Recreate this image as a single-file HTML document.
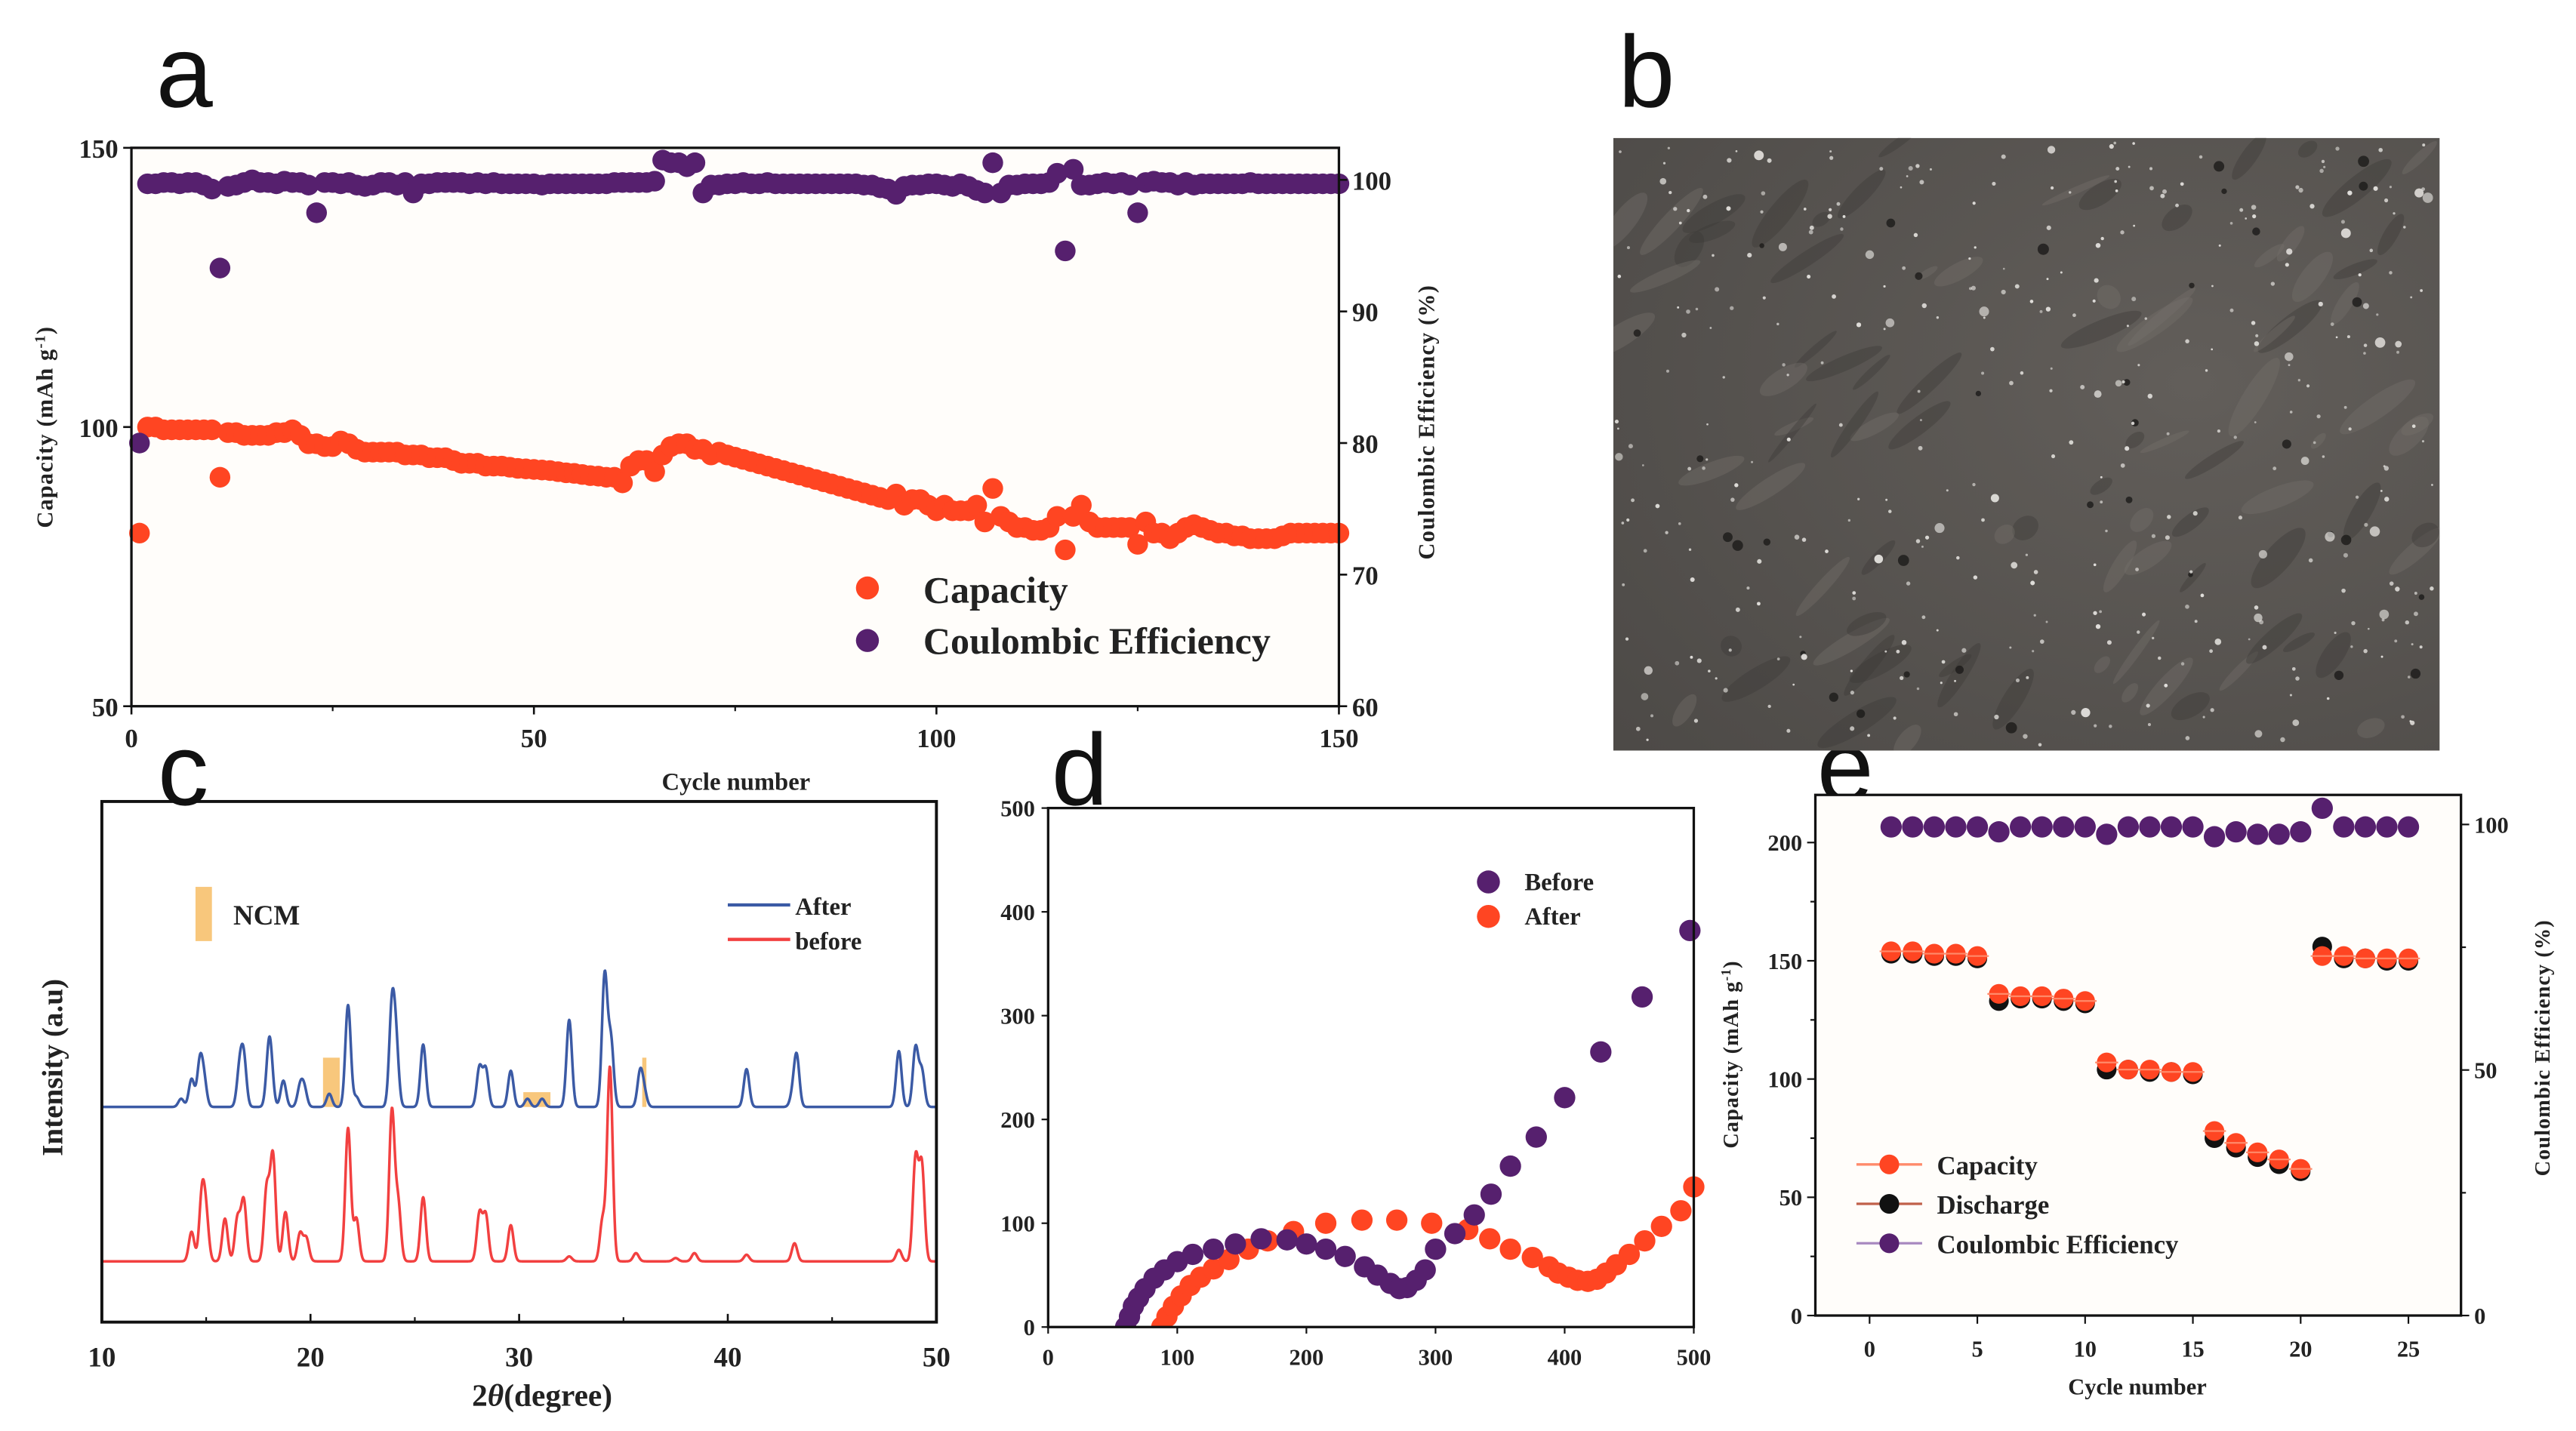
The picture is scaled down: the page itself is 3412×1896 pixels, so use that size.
<!DOCTYPE html>
<html><head><meta charset="utf-8"><style>
html,body{margin:0;padding:0;background:#fff;}
svg{display:block;}
text{font-family:"Liberation Serif",serif;font-weight:bold;fill:#222;}
.lab{font-family:"Liberation Sans",sans-serif;font-weight:normal;fill:#111;font-size:62px;}
</style></head><body>
<svg id="fig" width="3412" height="1896" viewBox="0 0 1568 871.3" xmlns="http://www.w3.org/2000/svg">
<defs>
<radialGradient id="semg" cx="0.7" cy="0.4" r="0.9"><stop offset="0" stop-color="#625e5a"/><stop offset="1" stop-color="#4d4a47"/></radialGradient>
<clipPath id="clipb"><rect x="982" y="84" width="503" height="373"/></clipPath>
</defs>
<text class="lab" x="95" y="65">a</text>
<text class="lab" x="985" y="65">b</text>
<text class="lab" x="96" y="490">c</text>
<text class="lab" x="640" y="490">d</text>
<text class="lab" x="1106" y="488">e</text>
<g id="pa"></g>
<g id="pb" clip-path="url(#clipb)"></g>
<g id="pc"></g>
<g id="pd"></g>
<g id="pe"></g>
</svg>
<script>
// ---------- Panel a data ----------
const aCapacity = [81,100,100,99.5,99.5,99.5,99.5,99.5,99.5,99.5,91,99,99,98.5,98.5,98.5,98.5,99,99,99.5,98.5,97,97,96.5,96.5,97.5,97,96,95.5,95.5,
95.5,95.5,95.5,95,95,95,94.5,94.5,94.5,94,93.5,93.5,93.5,93,93,93,92.8,92.6,92.5,92.4,92.3,92.2,92,91.8,91.7,91.5,91.3,91.2,91,91,
90,93,94,94,92,95,96.5,97,97,96,96,95,95.5,95,94.6,94.2,93.8,93.4,93,92.6,92.2,91.8,91.4,91,90.6,90.2,89.8,89.4,89,88.6,
88.2,87.8,87.4,87,88,86,87,87,86,85,86,85,85,85,86,83,89,84,83,82,82,81.5,81.5,82,84,78,84,86,83,82,
82,82,82,82,79,83,81,81,80,81,82,82.5,82,81.5,81,81,80.5,80.5,80,80,80,80,80.5,81,81,81,81,81,81,81];
const aCE = [80,99.7,99.7,99.8,99.8,99.7,99.8,99.8,99.6,99.3,93.3,99.5,99.6,99.8,100,99.8,99.8,99.7,99.9,99.8,99.8,99.6,97.5,99.8,99.8,99.7,99.8,99.6,99.5,99.6,
99.8,99.8,99.6,99.8,99.0,99.7,99.7,99.8,99.8,99.8,99.8,99.7,99.8,99.7,99.8,99.7,99.7,99.7,99.7,99.7,99.6,99.7,99.7,99.7,99.7,99.7,99.7,99.7,99.7,99.8,
99.8,99.8,99.8,99.8,99.9,101.5,101.3,101.3,101.0,101.3,99.0,99.6,99.6,99.7,99.7,99.8,99.7,99.7,99.8,99.7,99.7,99.7,99.7,99.7,99.7,99.7,99.7,99.7,99.7,99.7,
99.6,99.6,99.4,99.3,98.9,99.5,99.6,99.6,99.7,99.7,99.6,99.5,99.7,99.5,99.2,99.0,101.3,99.0,99.6,99.6,99.7,99.7,99.7,99.8,100.5,94.6,100.8,99.6,99.6,99.7,
99.8,99.7,99.8,99.6,97.5,99.8,99.9,99.8,99.8,99.6,99.8,99.6,99.7,99.7,99.7,99.7,99.7,99.7,99.8,99.7,99.7,99.7,99.7,99.7,99.7,99.7,99.7,99.7,99.7,99.7];
const aXTicks = [0,50,100,150];
const aYTicks = [50,100,150];
const aY2Ticks = [60,70,80,90,100];

// ---------- Panel c data (peak centres in 2theta, heights in a.u.) ----------
const cAfterPos = [13.8,14.3,14.7,14.9,16.6,16.8,18.0,18.1,18.7,19.5,19.7,20.9,21.8,22.2,23.9,24.1,25.4,28.1,28.4,29.6,30.4,31.1,32.4,34.1,34.4,35.8,36.0,40.9,43.1,43.3,48.2,49.0,49.3];
const cAfterH   = [5,17,27,15,22,29,28,18,16,12,11,8,62,6,58,36,38,24,23,22,5,5,53,80,40,21,8,23,6,31,34,36,22];
const cBeforePos= [14.3,14.8,15.0,15.9,16.5,16.8,17.9,18.2,18.8,19.5,19.8,21.8,22.2,23.9,24.2,25.4,28.1,28.4,29.6,32.4,34.0,34.35,35.6,37.5,38.4,40.9,43.2,48.2,49.0,49.3];
const cBeforeH  = [18,40,25,26,26,37,44,64,30,17,14,81,26,91,35,39,29,28,22,3,25,118,5,2,5,4,11,7,62,58];
const cXTicks = [10,20,30,40,50];
const cNCM = [[20.6,21.4,30],[30.2,31.5,9],[35.9,36.1,30]];

// ---------- Panel d data ----------
const dBeforeX = [60,63,66,70,75,82,90,100,112,128,145,165,185,200,215,230,245,255,265,272,278,285,292,300,315,330,343,358,378,400,428,460,497];
const dBeforeY = [0,10,20,28,37,47,55,63,70,75,80,85,84,80,75,68,58,50,42,37,38,45,55,75,90,108,128,155,183,221,265,318,382];
const dAfterX = [88,92,97,103,110,118,128,140,155,170,190,215,243,270,297,325,342,358,375,388,395,403,410,418,425,432,440,450,462,475,490,500];
const dAfterY = [0,10,20,30,40,48,56,65,75,83,92,100,103,103,100,94,85,75,67,58,52,48,45,44,46,52,60,70,83,97,112,135];
const dTicks = [0,100,200,300,400,500];

// ---------- Panel e data ----------
const eCycles = [1,2,3,4,5,6,7,8,9,10,11,12,13,14,15,16,17,18,19,20,21,22,23,24,25];
const eCapacity = [154,154,153,153,152,136,135,135,134,133,107,104,104,103,103,78,73,69,66,62,152,152,151,151,151];
const eDischarge = [153,153,152,152,151,133,134,134,133,132,104,104,103,103,102,75,71,67,64,61,156,151,151,150,150];
const eCE = [99.5,99.5,99.5,99.5,99.5,98.5,99.5,99.5,99.5,99.5,98,99.5,99.5,99.5,99.5,97.5,98.5,98,98,98.5,103.3,99.5,99.5,99.5,99.5];
const eXTicks = [0,5,10,15,20,25];
const eYTicks = [0,50,100,150,200];
const eY2Ticks = [0,50,100];

const NS="http://www.w3.org/2000/svg";
function mk(parent, tag, attrs, txt){const e=document.createElementNS(NS,tag);for(const k in attrs)e.setAttribute(k,attrs[k]);if(txt!==undefined)e.textContent=txt;parent.appendChild(e);return e;}
function lin(d0,d1,r0,r1){return v=>r0+(v-d0)*(r1-r0)/(d1-d0);}

// ===== Panel a =====
(function(){
const g=document.getElementById('pa');
const L=80,R=815,T=90,B=430;
const x=lin(0,150,L,R), y=lin(50,150,B,T), y2=lin(60,100,B,109.5);
let r=mk(g,'rect',{x:L,y:T,width:R-L,height:B-T,fill:'#fffdfa',stroke:'none'});

for(let i=0;i<aCapacity.length;i++){const c=mk(g,'circle',{cx:x(i+1),cy:y(aCapacity[i]),r:6.3,fill:'#ff4522'});
}
for(let i=0;i<aCE.length;i++){const c=mk(g,'circle',{cx:x(i+1),cy:y2(aCE[i]),r:6.3,fill:'#56206e'});
}
mk(g,'rect',{x:L,y:T,width:R-L,height:B-T,fill:'none',stroke:'#111','stroke-width':1.5});
aXTicks.forEach(v=>{mk(g,'line',{x1:x(v),x2:x(v),y1:B,y2:B+5,stroke:'#111','stroke-width':1.2});
const t=mk(g,'text',{x:x(v),y:B+25,'text-anchor':'middle','font-size':16,'font-weight':'normal'},v);});
[25,75,125].forEach(v=>mk(g,'line',{x1:x(v),x2:x(v),y1:B,y2:B+3,stroke:'#111'}));
aYTicks.forEach(v=>{mk(g,'line',{x1:L-5,x2:L,y1:y(v),y2:y(v),stroke:'#111','stroke-width':1.2});
const t=mk(g,'text',{x:L-8,y:y(v)+6,'text-anchor':'end','font-size':16,'font-weight':'normal'},v);});
aY2Ticks.forEach(v=>{mk(g,'line',{x1:R,x2:R+5,y1:y2(v),y2:y2(v),stroke:'#111','stroke-width':1.2});
const t=mk(g,'text',{x:R+8,y:y2(v)+6,'font-size':16,'font-weight':'normal'},v);});
let t=mk(g,'text',{x:448,y:481,'text-anchor':'middle','font-size':15},'Cycle number');
t=mk(g,'text',{transform:'translate(32,260) rotate(-90)','text-anchor':'middle','font-size':14,'letter-spacing':'0.5'},'Capacity (mAh g');
mk(t,'tspan',{'baseline-shift':'super','font-size':9},'-1');mk(t,'tspan',{},')');

t=mk(g,'text',{transform:'translate(873,257) rotate(-90)','text-anchor':'middle','font-size':14,'letter-spacing':'0.5'},'Coulombic Efficiency (%)');

let c=mk(g,'circle',{cx:528,cy:358,r:7,fill:'#ff4522'});
t=mk(g,'text',{x:562,y:367,'font-size':23},'Capacity');
c=mk(g,'circle',{cx:528,cy:390,r:7,fill:'#56206e'});
t=mk(g,'text',{x:562,y:398,'font-size':23},'Coulombic Efficiency');
})();

// ===== Panel b (SEM texture) =====
(function(){
const g=document.getElementById('pb');
const X=982,Y=84,W=503,H=373;
let r=mk(g,'rect',{x:X,y:Y,width:W,height:H,fill:'url(#semg)'});
let s=12345;function rnd(){s=(s*1103515245+12345)%2147483648;return s/2147483648;}
for(let i=0;i<90;i++){const cx=X+rnd()*W,cy=Y+rnd()*H;const a=-60+rnd()*40;
mk(g,'ellipse',{cx:cx,cy:cy,rx:6+rnd()*22,ry:2+rnd()*6,fill:rnd()<0.5?'#3c3936':'#75716c',opacity:0.4,transform:'rotate('+a.toFixed(1)+' '+cx.toFixed(1)+' '+cy.toFixed(1)+')'});}
for(let i=0;i<35;i++){const cx=X+10+rnd()*(W-20),cy=Y+10+rnd()*(H-20);mk(g,'circle',{cx:cx,cy:cy,r:1+rnd()*2.5,fill:'#1c1a19',opacity:0.8});}
for(let i=0;i<380;i++){const cx=X+2+rnd()*(W-4),cy=Y+2+rnd()*(H-4);const rr=rnd()<0.1?1.8+rnd()*1.6:0.6+rnd()*0.9;mk(g,'circle',{cx:cx,cy:cy,r:rr,fill:'#e8e6e2',opacity:0.55+rnd()*0.4});}
})();

// ===== Panel c =====
(function(){
const g=document.getElementById('pc');
const L=62,R=570,T=488,B=805;
const x=lin(10,50,L,R);
const baseA=674, baseB=768;
function trace(pos,h,base,col,name,sig){
 let d='';for(let tt=10;tt<=50.001;tt+=0.02){let v=0;for(let i=0;i<pos.length;i++){const z=(tt-pos[i])/sig;v+=h[i]*Math.exp(-z*z/2);}
 d+=(d?'L':'M')+x(tt).toFixed(2)+','+(base-v).toFixed(2);}
 const p=mk(g,'path',{d:d,fill:'none',stroke:col,'stroke-width':1.6,'stroke-linejoin':'round'});}
cNCM.forEach(b=>{const r=mk(g,'rect',{x:x(b[0]),y:baseA-b[2],width:x(b[1])-x(b[0]),height:b[2],fill:'#f8c77c'});});
trace(cAfterPos,cAfterH,baseA,'#3b5aa5','after-trace',0.13);
trace(cBeforePos,cBeforeH,baseB,'#f24040','before-trace',0.13);
mk(g,'rect',{x:L,y:T,width:R-L,height:B-T,fill:'none',stroke:'#111','stroke-width':1.8});
cXTicks.forEach(v=>{mk(g,'line',{x1:x(v),x2:x(v),y1:B,y2:B-5,stroke:'#111','stroke-width':1.2});
const t=mk(g,'text',{x:x(v),y:B+27,'text-anchor':'middle','font-size':17},v);});
[15,25,35,45].forEach(v=>mk(g,'line',{x1:x(v),x2:x(v),y1:B,y2:B-3,stroke:'#111'}));
let t=mk(g,'text',{x:330,y:856,'text-anchor':'middle','font-size':19},'2');mk(t,'tspan',{'font-style':'italic'},'θ');mk(t,'tspan',{},'(degree)');

t=mk(g,'text',{transform:'translate(38,650) rotate(-90)','text-anchor':'middle','font-size':18},'Intensity (a.u)');
let r=mk(g,'rect',{x:119,y:540,width:10,height:33,fill:'#f8c77c'});
t=mk(g,'text',{x:142,y:563,'font-size':17},'NCM');
mk(g,'line',{x1:443,x2:481,y1:551,y2:551,stroke:'#3b5aa5','stroke-width':2});
t=mk(g,'text',{x:484,y:557,'font-size':15},'After');
mk(g,'line',{x1:443,x2:481,y1:572,y2:572,stroke:'#f24040','stroke-width':2});
t=mk(g,'text',{x:484,y:578,'font-size':15},'before');
})();

// ===== Panel d =====
(function(){
const g=document.getElementById('pd');
const L=638,R=1031,T=492,B=808;
const x=lin(0,500,L,R), y=lin(0,500,B,T);
const cp=mk(g,'clipPath',{id:'clipd'});mk(cp,'rect',{x:L,y:T-10,width:R-L+8,height:B-T+10});
const gg=mk(g,'g',{'clip-path':'url(#clipd)'});
for(let i=0;i<dAfterX.length;i++){const c=mk(gg,'circle',{cx:x(dAfterX[i]),cy:y(dAfterY[i]),r:6.5,fill:'#ff4522'});}
for(let i=0;i<dBeforeX.length;i++){const c=mk(gg,'circle',{cx:x(dBeforeX[i]),cy:y(dBeforeY[i]),r:6.5,fill:'#56206e'});}
mk(g,'rect',{x:L,y:T,width:R-L,height:B-T,fill:'none',stroke:'#111','stroke-width':1.5});
dTicks.forEach(v=>{mk(g,'line',{x1:x(v),x2:x(v),y1:B,y2:B+4,stroke:'#111'});
let t=mk(g,'text',{x:x(v),y:B+23,'text-anchor':'middle','font-size':14,'font-weight':'normal'},v);
mk(g,'line',{x1:L-4,x2:L,y1:y(v),y2:y(v),stroke:'#111'});
t=mk(g,'text',{x:L-8,y:y(v)+5,'text-anchor':'end','font-size':14,'font-weight':'normal'},v);});
let c=mk(g,'circle',{cx:906,cy:537,r:7,fill:'#56206e'});
let t=mk(g,'text',{x:928,y:542,'font-size':15},'Before');
c=mk(g,'circle',{cx:906,cy:558,r:7,fill:'#ff4522'});
t=mk(g,'text',{x:928,y:563,'font-size':15},'After');
})();

// ===== Panel e =====
(function(){
const g=document.getElementById('pe');
const L=1105,R=1498,T=484,B=801;
const x=lin(0,25,1138,1466), y=lin(0,200,B,513), y2=lin(0,100,B,502);
let r=mk(g,'rect',{x:L,y:T,width:R-L,height:B-T,fill:'#fffdfa'});
for(let i=0;i<eCycles.length;i++){
 let c=mk(g,'circle',{cx:x(eCycles[i]),cy:y2(eCE[i]),r:6.5,fill:'#56206e'});
 c=mk(g,'circle',{cx:x(eCycles[i]),cy:y(eDischarge[i]),r:6,fill:'#111'});
 c=mk(g,'circle',{cx:x(eCycles[i]),cy:y(eCapacity[i]),r:6,fill:'#ff4522'});
 mk(g,'line',{x1:x(eCycles[i])-7,x2:x(eCycles[i])+7,y1:y(eCapacity[i]),y2:y(eCapacity[i]),stroke:'#ff8a6a','stroke-width':1});}
mk(g,'rect',{x:L,y:T,width:R-L,height:B-T,fill:'none',stroke:'#111','stroke-width':1.5});
eXTicks.forEach(v=>{mk(g,'line',{x1:x(v),x2:x(v),y1:B,y2:B+5,stroke:'#111'});
const t=mk(g,'text',{x:x(v),y:B+25,'text-anchor':'middle','font-size':14,'font-weight':'normal'},v);});
eYTicks.forEach(v=>{mk(g,'line',{x1:L-5,x2:L,y1:y(v),y2:y(v),stroke:'#111'});
const t=mk(g,'text',{x:L-8,y:y(v)+5,'text-anchor':'end','font-size':14,'font-weight':'normal'},v);});
[25,75,125,175].forEach(v=>mk(g,'line',{x1:L-3,x2:L,y1:y(v),y2:y(v),stroke:'#111'}));
eY2Ticks.forEach(v=>{mk(g,'line',{x1:R,x2:R+5,y1:y2(v),y2:y2(v),stroke:'#111'});
const t=mk(g,'text',{x:R+8,y:y2(v)+5,'font-size':14,'font-weight':'normal'},v);});
[25,75].forEach(v=>mk(g,'line',{x1:R,x2:R+3,y1:y2(v),y2:y2(v),stroke:'#111'}));
let t=mk(g,'text',{x:1301,y:849,'text-anchor':'middle','font-size':14},'Cycle number');
t=mk(g,'text',{transform:'translate(1058,642) rotate(-90)','text-anchor':'middle','font-size':13,'letter-spacing':'0.5'},'Capacity (mAh g');
mk(t,'tspan',{'baseline-shift':'super','font-size':8},'-1');mk(t,'tspan',{},')');
t=mk(g,'text',{transform:'translate(1552,638) rotate(-90)','text-anchor':'middle','font-size':13,'letter-spacing':'0.5'},'Coulombic Efficiency (%)');
const leg=[['Capacity','#ff4522','#ff8a6a',709],['Discharge','#111','#c0604a',733],['Coulombic Efficiency','#56206e','#a889c0',757]];
leg.forEach(l=>{mk(g,'line',{x1:1130,x2:1170,y1:l[3],y2:l[3],stroke:l[2],'stroke-width':1.5});
const c=mk(g,'circle',{cx:1150,cy:l[3],r:6,fill:l[1]});
const tt=mk(g,'text',{x:1179,y:l[3]+6,'font-size':16},l[0]);});
})();
</script>
</body></html>
